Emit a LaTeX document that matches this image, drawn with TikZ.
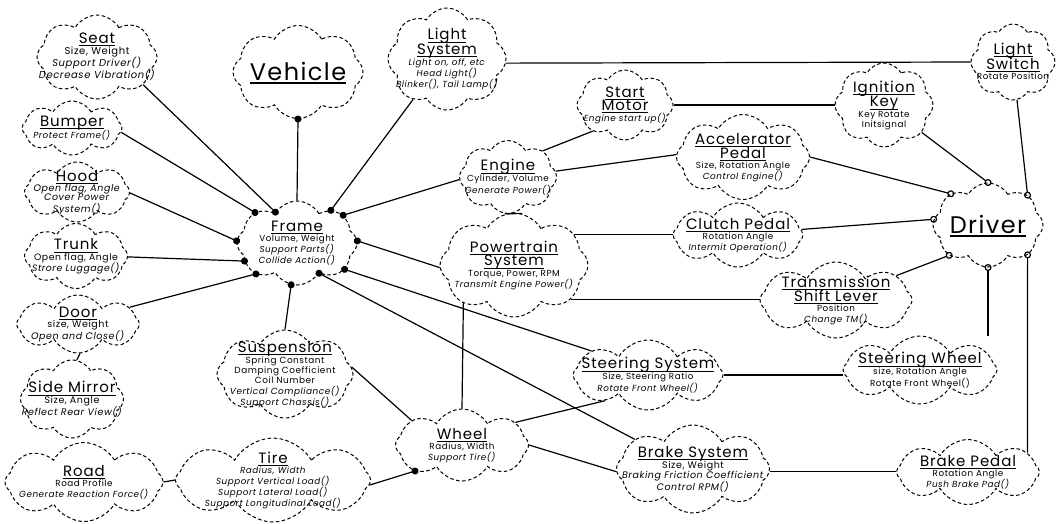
\documentclass[tikz,border=0pt]{standalone}
\usepackage{fontspec}
\setmainfont{Poppins}
\usetikzlibrary{shapes.symbols,arrows.meta}

\newcommand\ttl[1]{{\fontsize{15}{17}\selectfont\sbox0{#1}\rlap{\rule[-2.8pt]{\wd0}{1pt}}\usebox0}}
\newcommand\bigttl[1]{{\fontsize{24}{28}\selectfont\sbox0{#1}\rlap{\rule[-3.5pt]{\wd0}{1.2pt}}\usebox0}}
\newcommand\mth[1]{\textit{#1}}
\newcommand\cbox[1]{\makebox[0pt]{\smash{\raisebox{-3pt}{\begin{tabular}{@{}c@{}}#1\end{tabular}}}}}

\begin{document}
\begin{tikzpicture}[
        x=1pt, y=-1pt,
        txt/.style 2 args={font=\fontsize{#1}{#2}\selectfont\addfontfeatures{LetterSpace=6}},
        every node/.style={cloud, cloud puffs=8, cloud puff arc=120, cloud ignores aspect,
            draw, dash pattern=on 3.5pt off 2.5pt, line width=1pt, inner sep=0pt, txt={8.8}{10}},
        sz/.style 2 args={minimum width=#1pt, minimum height=#2pt},
        link/.style={line width=1.2pt},
        part/.style={line width=1.2pt, -{Circle[length=7pt]}, shorten >=-3.5pt},
        uses/.style={line width=1.2pt, -{Circle[open, length=7pt]}, shorten >=-3.5pt}
    ]
    \useasboundingbox (0,0) rectangle (1056,523);

    % left side
    \node[sz={120}{84}, txt={10}{10}] (seat) at (97,57) {\cbox{\ttl{Seat}\\ Size, Weight\\ \mth{Support Driver()}\\ \mth{Decrease Vibration()}}};
    \node[sz={130}{93}] (vehicle) at (298,72) {\cbox{\bigttl{Vehicle}}};
    \node[sz={100}{54}] (bumper) at (72,128) {\cbox{\ttl{Bumper}\\ \mth{Protect Frame()}}};
    \node[sz={105}{60}, txt={9.5}{9}] (hood) at (77,192) {\cbox{\ttl{Hood}\\ \mth{Open flag, Angle}\\ \mth{Cover Power}\\ \mth{System()}}};
    \node[sz={103}{65}, txt={9.3}{10}] (trunk) at (76,256) {\cbox{\ttl{Trunk}\\ Open flag, Angle\\ \mth{Strore Luggage()}}};
    \node[sz={123}{58}, txt={9.5}{10}] (door) at (78,324) {\cbox{\ttl{Door}\\ size, Weight\\ \mth{Open and Close()}}};
    \node[sz={103}{78}, txt={9.5}{10}] (mirror) at (72,399) {\cbox{\ttl{Side Mirror}\\ Size, Angle\\ \mth{Reflect Rear View()}}};
    \node[sz={158}{79}, txt={8.8}{10}] (road) at (84,482) {\cbox{\ttl{Road}\\ Road Profile\\ \mth{Generate Reaction Force()}}};

    % middle
    \node[sz={120}{84}] (frame) at (297,243) {\cbox{\ttl{Frame}\\ Volume, Weight\\ \mth{Support Parts()}\\ \mth{Collide Action()}}};
    \node[sz={136}{88}, txt={8.9}{10}] (susp) at (285,374) {\cbox{\ttl{Suspension}\\ Spring Constant\\ Damping Coefficient\\ Coil Number\\ \mth{Vertical Compliance()}\\ \mth{Support Chassis()}}};
    \node[sz={195}{84}] (tire) at (273,480) {\cbox{\ttl{Tire}\\ \mth{Radius, Width}\\ \mth{Support Vertical Load()}\\ \mth{Support Lateral Load()}\\ \mth{Support Longitudinal Load()}}};
    \node[sz={133}{72}] (wheel) at (462,445) {\cbox{\ttl{Wheel}\\ Radius, Width\\ \mth{Support Tire()}}};
    \node[sz={118}{102}] (lightsys) at (447,59) {\cbox{\ttl{Light}\\ \ttl{System}\\ \mth{Light on, off, etc}\\ \mth{Head Light()}\\ \mth{Blinker(), Tail Lamp()}}};
    \node[sz={97}{73}] (engine) at (508,177) {\cbox{\ttl{Engine}\\ Cylinder, Volume\\ \mth{Generate Power()}}};
    \node[sz={148}{104}] (ptrain) at (514,265) {\cbox{\ttl{Powertrain}\\ \ttl{System}\\ Torque, Power, RPM\\ \mth{Transmit Engine Power()}}};
    \node[sz={96}{70}] (startmotor) at (625,105) {\cbox{\ttl{Start}\\ \ttl{Motor}\\ \mth{Engine start up()}}};
    \node[sz={150}{70}] (steersys) at (648,375) {\cbox{\ttl{Steering System}\\ Size, Steering Ratio\\ \mth{Rotate Front Wheel()}}};
    \node[sz={153}{88}, txt={9.5}{10}] (brakesys) at (693,469) {\cbox{\ttl{Brake System}\\ Size, Weight\\ \mth{Braking Friction Coefficient}\\ \mth{Control RPM()}}};

    % right side
    \node[sz={133}{85}] (accel) at (743,157) {\cbox{\ttl{Accelerator}\\ \ttl{Pedal}\\ Size, Rotation Angle\\ \mth{Control Engine()}}};
    \node[sz={130}{64}] (clutch) at (738,235) {\cbox{\ttl{Clutch Pedal}\\ Rotation Angle\\ \mth{Intermit Operation()}}};
    \node[sz={152}{76}] (trans) at (836,300) {\cbox{\ttl{Transmission}\\ \ttl{Shift Lever}\\ Position\\ \mth{Change TM()}}};
    \node[sz={98}{84}] (ignkey) at (884,105) {\cbox{\ttl{Ignition}\\ \ttl{Key}\\ Key Rotate\\ Initsignal}};
    \node[sz={84}{76}] (lightsw) at (1013,62) {\cbox{\ttl{Light}\\ \ttl{Switch}\\ Rotate Position}};
    \node[sz={110}{84}] (driver) at (988,225) {\cbox{\bigttl{Driver}}};
    \node[sz={154}{68}] (steerwh) at (920,370) {\cbox{\ttl{Steering Wheel}\\ size, Rotation Angle\\ Rotate Front Wheel()}};
    \node[sz={143}{65}] (brakeped) at (968,472) {\cbox{\ttl{Brake Pedal}\\ Rotation Angle\\ \mth{Push Brake Pad()}}};

    % parts of the frame
    \draw[part] (frame.north) -- (vehicle.south);
    \draw[part] (seat.-31) -- (frame.125);
    \draw[part] (bumper.-5) -- (frame.144);
    \draw[part] (hood.-1) -- (frame.178);
    \draw[part] (trunk.-1) -- (frame.199);
    \draw[part] (door.18) -- (frame.217);
    \draw[part] (susp.north) -- (frame.262);
    \draw[part] (lightsys.230) -- (frame.44);
    \draw[part] (engine.183) -- (frame.31);
    \draw[part] (ptrain.182) -- (frame.2);
    \draw[part] (steersys.157) -- (frame.-29);
    \draw[part] (brakesys.153) -- (frame.-54);
    \draw[part] (tire.-3) -- (wheel.209);

    % plain links
    \draw[link] (door.-86) -- (mirror.83);
    \draw[link] (tire.west) -- (road.east);
    \draw[link] (susp.6) -- (wheel.154);
    \draw[link] (ptrain.217) -- (wheel.90);
    \draw[link] (steersys.211) -- (wheel.23);
    \draw[link] (brakesys.182) -- (wheel.0);
    \draw[link] (lightsys.-4) -- (lightsw.west);
    \draw[link] (startmotor.east) -- (ignkey.west);
    \draw[link] (engine.37) -- (startmotor.219);
    \draw[link] (engine.7) -- (accel.178);
    \draw[link] (engine.265) -- (ptrain.81);
    \draw[link] (ptrain.27) -- (ptrain.27 -| clutch.west);
    \draw[link] (ptrain.-31) -- (ptrain.-31 -| trans.west);
    \draw[link] (steersys.east) -- (steersys.east -| steerwh.west);
    \draw[link] (brakesys.-2) -- (brakesys.-2 -| brakeped.west);

    % what the driver handles
    \draw[uses] (accel.east) -- (driver.140);
    \draw[uses] (ignkey.-36) -- (driver.90);
    \draw[uses] (lightsw.-84) -- (driver.37);
    \draw[uses] (clutch.5) -- (driver.174);
    \draw[uses] (trans.22) -- (driver.218);
    \draw[uses] (driver.south |- steerwh.north) -- (driver.south);
    \draw[uses] (brakeped.18) -- (driver.-37);
\end{tikzpicture}
\end{document}
